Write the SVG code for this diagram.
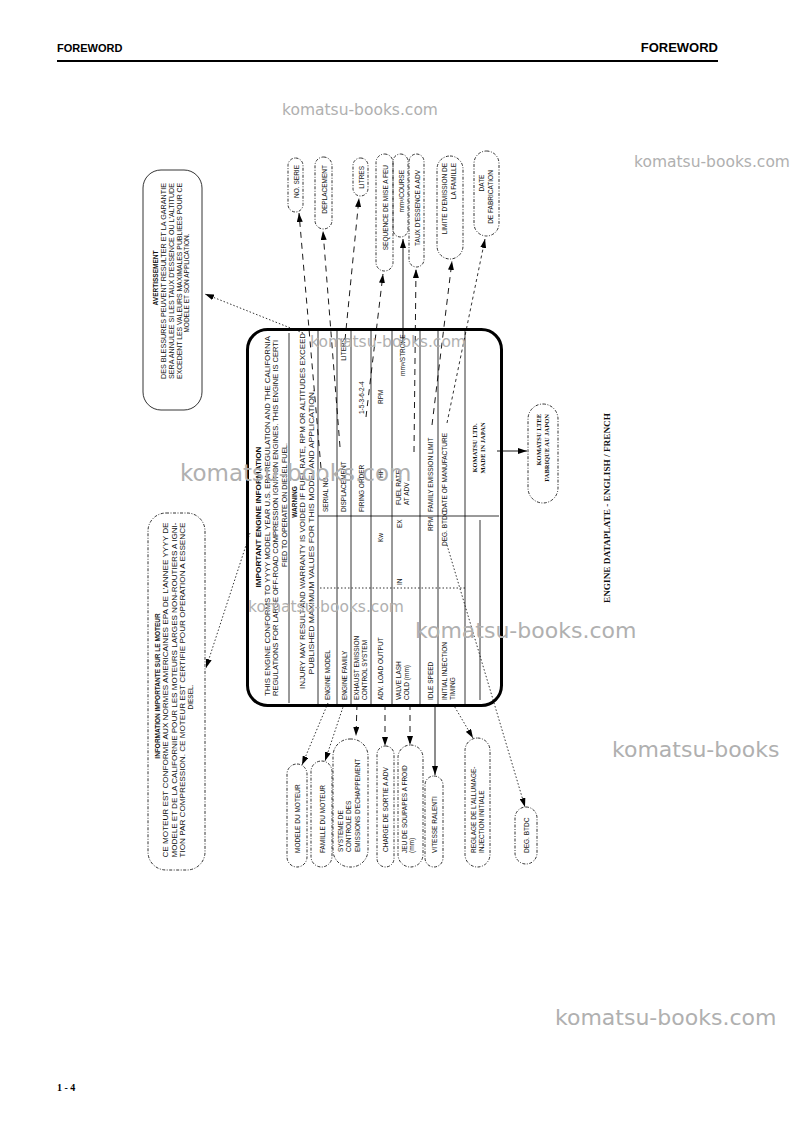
<svg xmlns="http://www.w3.org/2000/svg" width="793" height="1121" viewBox="0 0 793 1121">
<defs>
<marker id="ah" markerUnits="userSpaceOnUse" markerWidth="9" markerHeight="6" refX="9" refY="3" orient="auto">
<path d="M0,0 L9,3 L0,6 z" fill="#000"/>
</marker>
<style>
.t{font-family:"Liberation Sans",Arial,sans-serif;font-size:6.5px;fill:#111}
.b{font-weight:bold}
.s{font-family:"Liberation Serif","Times New Roman",serif;font-weight:bold;fill:#111}
.c{text-anchor:middle}
.e{text-anchor:end}
.pill{fill:none;stroke:#000;stroke-width:0.8;stroke-dasharray:3 1.5 1 1.5}
.ln{stroke:#000;stroke-width:0.8;fill:none}
.dash{stroke:#000;stroke-width:0.9;fill:none;stroke-dasharray:6 5}
.fdash{stroke:#000;stroke-width:0.8;fill:none;stroke-dasharray:3 3}
.dot{stroke:#000;stroke-width:0.8;fill:none;stroke-dasharray:1.5 2}
.solid{stroke:#000;stroke-width:0.9;fill:none}
.wm{font-family:"DejaVu Sans",Verdana,sans-serif;fill:#b0b0b0}
</style>
</defs>
<rect width="793" height="1121" fill="#fff"/>

<g id="header">
<text x="57" y="52" style="font-family:'Liberation Sans',Arial,sans-serif;font-weight:bold;font-size:11px" fill="#000">FOREWORD</text>
<text x="718" y="52" text-anchor="end" style="font-family:'Liberation Sans',Arial,sans-serif;font-weight:bold;font-size:13px" fill="#000">FOREWORD</text>
<line x1="57" y1="61" x2="718" y2="61" stroke="#000" stroke-width="2"/>
</g>

<g id="plate">
<rect x="247.5" y="329.5" width="254" height="376" rx="20" fill="none" stroke="#000" stroke-width="3"/>
<g class="ln">
<line x1="289" y1="333" x2="289" y2="703"/>
<line x1="318" y1="331" x2="318" y2="704"/>
<line x1="337" y1="331" x2="337" y2="704"/>
<line x1="351" y1="331" x2="351" y2="704"/>
<line x1="371" y1="331" x2="371" y2="704"/>
<line x1="392" y1="331" x2="392" y2="704"/>
<line x1="420" y1="331" x2="420" y2="704"/>
<line x1="438" y1="331" x2="438" y2="704"/>
<line x1="465" y1="331" x2="465" y2="704"/>
<line x1="480" y1="520" x2="480" y2="700"/>
<line x1="318" y1="516" x2="499" y2="516"/>
</g>
<line x1="320" y1="588" x2="465" y2="588" class="dot"/>
<g class="t">
<text class="b c" transform="translate(261,517) rotate(-90)" textLength="141" lengthAdjust="spacingAndGlyphs">IMPORTANT ENGINE INFORMATION</text>
<text class="c" transform="translate(270,516) rotate(-90)" textLength="360" lengthAdjust="spacingAndGlyphs">THIS ENGINE CONFORMS TO YYYY MODEL YEAR U.S. EPA REGULATION AND THE CALIFORNIA</text>
<text class="c" transform="translate(278,518) rotate(-90)" textLength="356" lengthAdjust="spacingAndGlyphs">REGULATIONS FOR LARGE OFF-ROAD COMPRESSION IGNITION ENGINES. THIS ENGINE IS CERTI</text>
<text class="c" transform="translate(287,505) rotate(-90)" textLength="124" lengthAdjust="spacingAndGlyphs">FIED TO OPERATE ON DIESEL FUEL.</text>
<text class="b c" transform="translate(297,502) rotate(-90)">WARNING</text>
<text class="c" transform="translate(305,511) rotate(-90)" textLength="356" lengthAdjust="spacingAndGlyphs">INJURY MAY RESULT AND WARRANTY IS VOIDED IF FUEL RATE, RPM OR ALTITUDES EXCEED</text>
<text class="c" transform="translate(314,532) rotate(-90)" textLength="285" lengthAdjust="spacingAndGlyphs">PUBLISHED MAXIMUM VALUES FOR THIS MODEL AND APPLICATION.</text>

<text transform="translate(330,700) rotate(-90)">ENGINE MODEL</text>
<text transform="translate(328,512) rotate(-90)">SERIAL NO.</text>
<text transform="translate(347,700) rotate(-90)">ENGINE FAMILY</text>
<text transform="translate(346,512) rotate(-90)">DISPLACEMENT</text>
<text class="e" transform="translate(346,338) rotate(-90)">LITERS</text>
<text transform="translate(359,700) rotate(-90)">EXHAUST EMISSION</text>
<text transform="translate(367,700) rotate(-90)">CONTROL SYSTEM</text>
<text transform="translate(364,512) rotate(-90)">FIRING ORDER</text>
<text transform="translate(364,414) rotate(-90)">1-5-3-6-2-4</text>
<text transform="translate(383,700) rotate(-90)">ADV. LOAD OUTPUT</text>
<text transform="translate(383,542) rotate(-90)">Kw</text>
<text transform="translate(383,478) rotate(-90)">HP</text>
<text transform="translate(383,404) rotate(-90)">RPM</text>
<text transform="translate(401,700) rotate(-90)">VALVE LASH</text>
<text transform="translate(409,700) rotate(-90)">COLD (mm)</text>
<text transform="translate(402,585) rotate(-90)">IN</text>
<text transform="translate(402,528) rotate(-90)">EX</text>
<text transform="translate(401,505) rotate(-90)">FUEL RATE</text>
<text transform="translate(409,505) rotate(-90)">AT ADV</text>
<text transform="translate(405,376) rotate(-90)">mm³/STROKE</text>
<text transform="translate(433,700) rotate(-90)">IDLE SPEED</text>
<text transform="translate(433,531) rotate(-90)">RPM</text>
<text transform="translate(433,512) rotate(-90)">FAMILY EMISSION LIMIT</text>
<text transform="translate(447,700) rotate(-90)">INITIAL INJECTION</text>
<text transform="translate(455,700) rotate(-90)">TIMING</text>
<text transform="translate(447,546) rotate(-90)">DEG. BTDC</text>
<text transform="translate(447,512) rotate(-90)">DATE OF MANUFACTURE</text>
</g>
<text class="s c" style="font-size:6.5px" transform="translate(477,448) rotate(-90)">KOMATSU LTD.</text>
<text class="s c" style="font-size:6.5px" transform="translate(485,448) rotate(-90)">MADE IN JAPAN</text>
</g>

<g id="connectors">
<line x1="321" y1="468" x2="299" y2="213" class="dash" marker-end="url(#ah)"/>
<line x1="340" y1="447" x2="323" y2="231" class="dash" marker-end="url(#ah)"/>
<line x1="345" y1="340" x2="359" y2="198" class="dash" marker-end="url(#ah)"/>
<line x1="366" y1="417" x2="383" y2="274" class="dash" marker-end="url(#ah)"/>
<line x1="403" y1="342" x2="403" y2="239" class="solid" marker-end="url(#ah)"/>
<line x1="414" y1="452" x2="416" y2="269" class="dash" marker-end="url(#ah)"/>
<line x1="432" y1="425" x2="452" y2="261" class="dash" marker-end="url(#ah)"/>
<line x1="447" y1="423" x2="485" y2="239" class="fdash" marker-end="url(#ah)"/>
<line x1="303" y1="333" x2="205" y2="294" class="dot" marker-end="url(#ah)"/>
<line x1="250" y1="533" x2="206" y2="668" class="dot" marker-end="url(#ah)"/>
<line x1="328" y1="703" x2="302" y2="765" class="dot" marker-end="url(#ah)"/>
<line x1="344" y1="704" x2="325" y2="761" class="dot" marker-end="url(#ah)"/>
<line x1="357" y1="704" x2="356" y2="736" class="dash" marker-end="url(#ah)"/>
<line x1="385" y1="704" x2="385" y2="746" class="dash" marker-end="url(#ah)"/>
<line x1="410" y1="704" x2="410" y2="745" class="dash" marker-end="url(#ah)"/>
<line x1="435" y1="704" x2="435" y2="775" class="solid" marker-end="url(#ah)"/>
<line x1="453" y1="704" x2="473" y2="738" class="dot" marker-end="url(#ah)"/>
<line x1="447" y1="545" x2="525" y2="807" class="dot" marker-end="url(#ah)"/>
<line x1="497" y1="451" x2="527" y2="451" class="solid" marker-end="url(#ah)"/>
</g>

<g id="c-noserie"><rect class="pill" x="288" y="158" width="15" height="54" rx="7.5"/><text class="t e" transform="translate(299,165) rotate(-90)">NO. SERIE</text></g>
<g id="c-deplacement"><rect class="pill" x="315" y="157" width="17" height="72" rx="8.5"/><text class="t e" transform="translate(327,165) rotate(-90)">DEPLACEMENT</text></g>
<g id="c-litres"><rect class="pill" x="353" y="158" width="15" height="38" rx="7.5"/><text class="t e" transform="translate(364,166) rotate(-90)">LITRES</text></g>
<g id="c-sequence"><rect class="pill" x="376" y="154" width="17" height="117" rx="8.5"/><text class="t e" transform="translate(388,165) rotate(-90)">SEQUENCE DE MISE A FEU</text></g>
<g id="c-mm3"><rect class="pill" x="393" y="154" width="15" height="83" rx="7.5"/><text class="t e" transform="translate(404,170) rotate(-90)">mm³/COURSE</text></g>
<g id="c-taux"><rect class="pill" x="409" y="154" width="15" height="113" rx="7.5"/><text class="t e" transform="translate(420,170) rotate(-90)">TAUX D'ESSENCE A ADV</text></g>
<g id="c-limite"><rect class="pill" x="437" y="156" width="26" height="103" rx="13"/><text class="t e" transform="translate(447,163) rotate(-90)">LIMITE D'EMISSION DE</text><text class="t e" transform="translate(456,163) rotate(-90)">LA FAMILLE</text></g>
<g id="c-date"><rect class="pill" x="474" y="151" width="25" height="85" rx="12.5"/><text class="t c" transform="translate(484,183) rotate(-90)">DATE</text><text class="t c" transform="translate(493,197) rotate(-90)">DE FABRICATION</text></g>

<g id="c-modele"><rect class="pill" x="287" y="764" width="20" height="103" rx="10"/><text class="t" transform="translate(300,853) rotate(-90)">MODELE DU MOTEUR</text></g>
<g id="c-famille"><rect class="pill" x="311" y="761" width="21" height="106" rx="10.5"/><text class="t" transform="translate(325,853) rotate(-90)">FAMILLE DU MOTEUR</text></g>
<g id="c-systeme"><rect class="pill" x="333" y="739" width="35" height="128" rx="17"/><text class="t" transform="translate(343,852) rotate(-90)">SYSTEME DE</text><text class="t" transform="translate(351,852) rotate(-90)">CONTROLE DES</text><text class="t" transform="translate(360,852) rotate(-90)">EMISSIONS D'ECHAPPEMENT</text></g>
<g id="c-charge"><rect class="pill" x="377" y="746" width="17" height="121" rx="8.5"/><text class="t" transform="translate(388,852) rotate(-90)">CHARGE DE SORTIE A ADV</text></g>
<g id="c-jeu"><rect class="pill" x="398" y="745" width="25" height="122" rx="12.5"/><text class="t" transform="translate(407,853) rotate(-90)">JEU DE SOUPAPES A FROID</text><text class="t" transform="translate(414,853) rotate(-90)">(mm)</text></g>
<g id="c-vitesse"><rect class="pill" x="425" y="776" width="18" height="91" rx="9"/><text class="t" transform="translate(437,853) rotate(-90)">VITESSE RALENTI</text></g>
<g id="c-reglage"><rect class="pill" x="465" y="738" width="25" height="129" rx="12.5"/><text class="t" transform="translate(476,853) rotate(-90)">REGLAGE DE L'ALLUMAGE-</text><text class="t" transform="translate(484,853) rotate(-90)">INJECTION INITIALE</text></g>
<g id="c-deg"><rect class="pill" x="515" y="807" width="22" height="57" rx="11"/><text class="t" transform="translate(529,853) rotate(-90)">DEG. BTDC</text></g>

<g id="c-komatsu"><rect class="pill" x="528" y="404" width="30" height="99" rx="15"/><text class="s e" style="font-size:6.5px" transform="translate(541,414) rotate(-90)">KOMATSU LTEE</text><text class="s e" style="font-size:6.5px" transform="translate(549,414) rotate(-90)">FABRIQUE AU JAPON</text></g>

<g id="c-avertissement"><rect x="143" y="170" width="59" height="240" rx="18" fill="none" stroke="#000" stroke-width="0.8"/>
<text class="t b c" transform="translate(158,278) rotate(-90)">AVERTISSEMENT</text>
<text class="t c" transform="translate(166,281) rotate(-90)" textLength="196" lengthAdjust="spacingAndGlyphs">DES BLESSURES PEUVENT RESULTER ET LA GARANTIE</text>
<text class="t c" transform="translate(174,281) rotate(-90)" textLength="196" lengthAdjust="spacingAndGlyphs">SERA ANNULEE SI LES TAUX D'ESSENCE OU L'ALTITUDE</text>
<text class="t c" transform="translate(182,281) rotate(-90)" textLength="196" lengthAdjust="spacingAndGlyphs">EXCEDENT LES VALEURS MAXIMALES PUBLIEES POUR CE</text>
<text class="t c" transform="translate(189,283) rotate(-90)">MODELE ET SON APPLICATION.</text>
</g>

<g id="c-information"><rect class="pill" x="148" y="513" width="57" height="357" rx="18"/>
<text class="t b c" transform="translate(160,686) rotate(-90)">INFORMATION IMPORTANTE SUR LE MOTEUR</text>
<text class="t c" transform="translate(168,690) rotate(-90)" textLength="335" lengthAdjust="spacingAndGlyphs">CE MOTEUR EST CONFORME AUX NORMES AMERICAINES EPA DE L'ANNEE YYYY DE</text>
<text class="t c" transform="translate(177,690) rotate(-90)" textLength="335" lengthAdjust="spacingAndGlyphs">MODELE ET DE LA CALIFORNIE POUR LES MOTEURS LARGES NON-ROUTIERS A IGNI-</text>
<text class="t c" transform="translate(185,690) rotate(-90)" textLength="335" lengthAdjust="spacingAndGlyphs">TION PAR COMPRESSION. CE MOTEUR EST CERTIFIE POUR OPERATION A ESSENCE</text>
<text class="t c" transform="translate(193,697) rotate(-90)">DIESEL.</text>
</g>

<text class="s c" style="font-size:8.5px" transform="translate(610,508) rotate(-90)" textLength="190" lengthAdjust="spacingAndGlyphs">ENGINE DATAPLATE - ENGLISH / FRENCH</text>

<text x="57" y="1091" style="font-family:'Liberation Serif',serif;font-size:10px;font-weight:bold" fill="#000">1 - 4</text>

<g id="watermarks">
<text class="wm" x="282" y="115" style="font-size:15.5px">komatsu-books.com</text>
<text class="wm" x="634" y="167" style="font-size:15.5px">komatsu-books.com</text>
<text class="wm" x="310" y="347" style="font-size:15.5px">komatsu-books.com</text>
<text class="wm" x="180" y="481" style="font-size:23px">komatsu-books.com</text>
<text class="wm" x="248" y="612" style="font-size:15.5px">komatsu-books.com</text>
<text class="wm" x="415" y="638" style="font-size:22px">komatsu-books.com</text>
<text class="wm" x="612" y="757" style="font-size:22px">komatsu-books</text>
<text class="wm" x="555" y="1025" style="font-size:22px">komatsu-books.com</text>
</g>
</svg>
